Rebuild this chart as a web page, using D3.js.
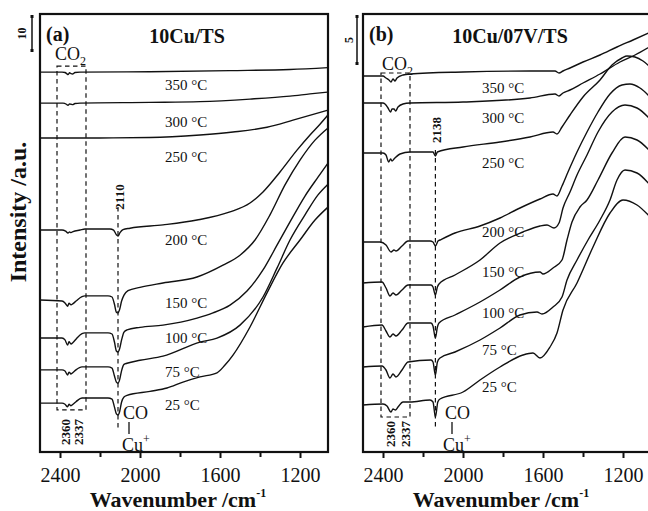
<!DOCTYPE html>
<html>
<head>
<meta charset="utf-8">
<script src="https://cdn.jsdelivr.net/npm/d3@7"></script>
<style>
  body { margin: 0; background: #fff; }
  svg { display: block; }
  text { font-family: "Liberation Serif", "Times New Roman", serif; fill: #111; }
</style>
</head>
<body>
<svg id="chart" width="648" height="511"></svg>
<script>
// ---------- data ----------
const wnMajorTicks = [2400, 2000, 1600, 1200];
const wnMinorTicks = [2200, 1800, 1400];
const temperatures = ["350", "300", "250", "200", "150", "100", "75", "25"];

// 10Cu/TS spectra: [wavenumber (cm-1), intensity (a.u., stacked)]
const a350 = [[2500,102.7],[2390,102.7],[2375,102.6],[2365,102.2],[2360,102.0],[2352,102.5],[2345,102.3],[2337,102.2],[2325,102.6],[2300,102.7],[1950,102.8],[1550,103.1],[1250,103.4],[1060,103.9]];
const a300 = [[2500,94.3],[2385,94.3],[2368,94.0],[2360,93.7],[2352,94.1],[2345,94.0],[2337,93.9],[2325,94.2],[2300,94.3],[1950,94.5],[1700,94.7],[1450,95.4],[1250,96.2],[1150,96.8],[1060,97.3]];
const a250 = [[2500,84.9],[2200,84.9],[1950,85.0],[1700,85.7],[1535,86.5],[1365,87.8],[1235,89.7],[1060,92.4]];
const a200 = [[2500,60.0],[2390,60.0],[2372,59.7],[2360,59.2],[2352,59.5],[2345,59.3],[2335,59.6],[2300,60.0],[2275,60.3],[2150,60.3],[2132,60.0],[2118,58.7],[2110,58.4],[2100,59.3],[2085,60.1],[2050,60.5],[1885,61.4],[1715,62.7],[1550,64.9],[1450,67.3],[1385,70.3],[1300,75.7],[1215,81.6],[1150,85.7],[1100,88.6],[1060,91.1]];
const a150 = [[2500,41.1],[2390,40.8],[2375,40.3],[2362,39.4],[2355,40.2],[2345,39.8],[2335,40.1],[2320,40.8],[2290,42.0],[2275,42.2],[2160,42.2],[2140,41.9],[2128,40.0],[2118,37.8],[2110,37.6],[2102,38.5],[2092,40.8],[2080,42.4],[2060,43.6],[2000,44.5],[1885,45.7],[1715,47.3],[1585,50.5],[1500,53.2],[1425,57.3],[1350,64.1],[1275,72.2],[1200,78.9],[1125,84.3],[1060,87.6]];
const a100 = [[2500,30.8],[2390,30.8],[2375,30.3],[2362,28.9],[2355,29.8],[2345,29.2],[2335,29.6],[2320,30.5],[2290,32.0],[2275,32.2],[2160,32.2],[2140,31.9],[2128,29.8],[2118,27.3],[2110,27.0],[2102,27.9],[2092,30.3],[2080,32.4],[2065,33.0],[2000,33.7],[1885,34.3],[1715,36.2],[1635,37.6],[1550,39.7],[1465,43.5],[1385,49.2],[1315,55.9],[1250,62.2],[1175,69.2],[1110,74.3],[1060,78.1]];
const a75 = [[2500,22.2],[2390,22.2],[2375,21.9],[2362,20.8],[2355,21.6],[2345,21.1],[2335,21.5],[2320,22.2],[2290,23.0],[2160,23.0],[2140,22.7],[2128,20.6],[2118,18.9],[2110,18.6],[2102,19.5],[2092,22.0],[2080,23.7],[2065,24.0],[2000,24.8],[1885,25.9],[1700,29.7],[1615,30.8],[1500,34.3],[1385,41.9],[1315,49.7],[1250,57.3],[1175,64.1],[1110,69.5],[1060,72.4]];
const a25 = [[2500,13.2],[2390,13.2],[2375,12.9],[2362,12.2],[2355,12.9],[2345,12.5],[2335,12.9],[2320,13.6],[2290,14.6],[2160,14.6],[2140,14.3],[2128,12.2],[2118,10.3],[2110,10.0],[2102,10.9],[2092,13.5],[2080,14.9],[2065,15.3],[1950,16.4],[1865,17.3],[1785,18.9],[1700,20.3],[1615,21.4],[1575,23.5],[1535,26.2],[1450,33.8],[1365,43.0],[1285,51.1],[1200,57.3],[1125,62.7],[1060,66.2]];

// 10Cu/07V/TS spectra
const b350 = [[2500,37.6],[2400,37.6],[2385,37.4],[2370,37.2],[2360,37.0],[2350,37.3],[2340,37.1],[2330,37.4],[2300,37.7],[2265,37.8],[2000,38.0],[1665,38.1],[1540,38.1],[1520,37.9],[1500,38.1],[1465,38.4],[1400,39.0],[1315,39.7],[1230,40.5],[1150,41.2],[1060,42.0]];
const b300 = [[2500,34.9],[2400,34.9],[2390,34.8],[2375,34.4],[2362,34.0],[2355,34.3],[2345,34.3],[2337,34.1],[2325,34.5],[2300,34.8],[2265,34.9],[2000,35.0],[1665,35.4],[1540,35.8],[1520,35.6],[1500,35.9],[1465,36.2],[1400,36.9],[1315,37.8],[1215,39.0],[1140,39.7],[1060,40.6]];
const b250 = [[2500,29.9],[2400,29.9],[2385,29.7],[2372,29.0],[2362,29.3],[2355,29.1],[2345,29.3],[2335,29.5],[2315,29.8],[2265,30.0],[2150,30.0],[2138,29.6],[2128,30.0],[2000,30.5],[1815,31.0],[1665,31.5],[1550,32.0],[1530,31.8],[1505,32.5],[1465,33.7],[1400,35.5],[1315,37.2],[1255,38.7],[1205,39.4],[1180,39.6],[1140,39.5],[1100,39.1],[1060,38.4]];
const b200 = [[2500,21.0],[2415,21.0],[2385,20.7],[2360,20.0],[2345,20.2],[2335,20.1],[2305,20.6],[2275,21.1],[2165,21.1],[2150,21.0],[2138,20.6],[2125,21.1],[2115,21.2],[2040,21.9],[1915,22.6],[1815,23.4],[1715,24.4],[1615,25.3],[1550,25.8],[1530,25.6],[1505,26.6],[1475,28.0],[1430,30.0],[1380,32.0],[1325,34.0],[1265,35.8],[1205,36.7],[1165,36.8],[1115,36.4],[1060,35.4]];
const b150 = [[2500,16.9],[2405,17.0],[2385,16.4],[2365,15.6],[2350,15.9],[2335,15.7],[2305,16.2],[2275,16.7],[2160,16.7],[2150,16.5],[2138,15.7],[2128,16.5],[2120,16.8],[2040,17.7],[1915,19.2],[1815,20.9],[1700,22.0],[1615,22.6],[1580,22.7],[1545,22.4],[1520,22.9],[1500,24.4],[1465,26.0],[1430,27.7],[1380,29.7],[1325,32.0],[1255,34.0],[1190,34.7],[1130,34.4],[1060,33.2]];
const b100 = [[2500,12.5],[2405,12.7],[2385,12.1],[2365,11.5],[2350,11.8],[2335,11.6],[2305,12.2],[2275,12.9],[2160,12.9],[2150,12.6],[2138,11.4],[2128,12.5],[2120,12.9],[2040,13.7],[1915,15.0],[1815,16.2],[1715,17.5],[1615,18.0],[1600,17.8],[1550,18.4],[1505,19.2],[1480,21.2],[1455,23.0],[1415,24.5],[1380,25.2],[1325,27.2],[1255,29.9],[1190,31.5],[1130,31.2],[1060,30.0]];
const b75 = [[2500,8.5],[2405,8.6],[2385,8.2],[2365,7.4],[2350,7.8],[2335,7.5],[2305,8.2],[2275,9.0],[2160,9.2],[2150,9.0],[2138,7.7],[2128,9.0],[2115,9.4],[2040,10.0],[1915,11.2],[1815,12.4],[1715,13.7],[1630,14.0],[1605,13.8],[1550,14.5],[1505,15.5],[1480,17.2],[1430,19.2],[1375,21.2],[1315,23.2],[1265,25.2],[1230,27.2],[1190,28.2],[1130,27.9],[1060,26.6]];
const b25 = [[2500,4.7],[2400,4.8],[2380,4.6],[2360,4.0],[2350,4.3],[2338,4.2],[2325,4.5],[2300,5.0],[2265,5.0],[2165,5.2],[2150,5.0],[2138,3.5],[2126,5.0],[2115,5.3],[2000,6.0],[1915,7.2],[1815,8.5],[1700,9.7],[1650,9.9],[1615,9.4],[1565,10.5],[1530,11.9],[1500,14.2],[1430,16.9],[1350,20.5],[1265,23.9],[1200,25.2],[1130,24.7],[1060,23.4]];

// Band assignments
const co2Bands = ["2360", "2337"];
const coBandA = 2110;
const coBandB = 2138;

// ---------- layout ----------
const svg = d3.select("#chart");
const plotTop = 14, plotBottom = 452, plotWidth = 288;
const wnDomain = [2500, 1060];

const panels = [
  {
    tag: "(a)", title: "10Cu/TS", left: 40, yMax: 118.4, bar: 10,
    spectra: [a350, a300, a250, a200, a150, a100, a75, a25],
    labelWn: 1875, labelLevels: [99.2, 89.2, 79.7, 57.3, 40.3, 30.8, 21.6, 12.7],
    coBand: coBandA, box: [2415, 2270, 104.3, 11.4], coLine: [66.2, 5.9],
    co2Text: [55, 60], co2Labels: [65, 78], coText: [123, 129, 122],
    barX: 32, barLabelX: 22
  },
  {
    tag: "(b)", title: "10Cu/07V/TS", left: 363, yMax: 43.8, bar: 5,
    spectra: [b350, b300, b250, b200, b150, b100, b75, b25],
    labelWn: 1905, labelLevels: [36.4, 33.4, 28.9, 22.0, 18.0, 13.9, 10.2, 6.5],
    coBand: coBandB, box: [2410, 2265, 37.9, 3.5], coLine: [30.2, 2.5],
    co2Text: [382, 70], co2Labels: [390, 405], coText: [445, 452, 443],
    barX: 357, barLabelX: 349
  }
];

panels.forEach(p => {
  const x = d3.scaleLinear().domain(wnDomain).range([p.left, p.left + plotWidth]);
  const y = d3.scaleLinear().domain([0, p.yMax]).range([plotBottom, plotTop]);
  const g = svg.append("g");

  // dashed guides: CO2 window and Cu+-CO band
  const dash = "4.5,3.5";
  g.append("rect")
    .attr("x", x(p.box[0])).attr("y", y(p.box[2]))
    .attr("width", x(p.box[1]) - x(p.box[0])).attr("height", y(p.box[3]) - y(p.box[2]))
    .attr("fill", "none").attr("stroke", "#111").attr("stroke-width", 1.2)
    .attr("stroke-dasharray", dash);
  g.append("line")
    .attr("x1", x(p.coBand)).attr("x2", x(p.coBand))
    .attr("y1", y(p.coLine[0])).attr("y2", y(p.coLine[1]))
    .attr("stroke", "#111").attr("stroke-width", 1.2).attr("stroke-dasharray", dash);

  // spectra
  const line = d3.line()
    .x(d => x(d[0])).y(d => y(d[1]))
    .curve(d3.curveMonotoneX);
  g.selectAll("path.spec").data(p.spectra).join("path")
    .attr("class", "spec").attr("d", line)
    .attr("fill", "none").attr("stroke", "#111").attr("stroke-width", 1.4)
    .attr("stroke-linejoin", "round");

  // temperature labels
  g.selectAll("text.temp").data(temperatures).join("text")
    .attr("class", "temp")
    .attr("x", x(p.labelWn))
    .attr("y", (d, i) => y(p.labelLevels[i]))
    .attr("dy", "0.35em")
    .attr("font-size", 15)
    .text(d => d + " \u00B0C");

  // frame
  g.append("rect")
    .attr("x", p.left).attr("y", plotTop)
    .attr("width", plotWidth).attr("height", plotBottom - plotTop)
    .attr("fill", "none").attr("stroke", "#111").attr("stroke-width", 2.2);

  // bottom axis
  const axMajor = d3.axisBottom(x).tickValues(wnMajorTicks).tickSize(6).tickPadding(10).tickFormat(d3.format("d"));
  const axMinor = d3.axisBottom(x).tickValues(wnMinorTicks).tickSize(5).tickFormat("");
  const gm = g.append("g").attr("transform", `translate(0,${plotBottom})`).call(axMajor);
  const gn = g.append("g").attr("transform", `translate(0,${plotBottom})`).call(axMinor);
  [gm, gn].forEach(a => {
    a.select(".domain").remove();
    a.selectAll(".tick line").attr("stroke", "#111").attr("stroke-width", 2);
  });
  gm.selectAll(".tick text")
    .attr("font-size", 20).attr("font-family", "Liberation Serif, serif").attr("fill", "#111");

  // x axis title
  const xt = g.append("text")
    .attr("x", p.left + plotWidth / 2 - 6).attr("y", 507)
    .attr("text-anchor", "middle").attr("font-size", 22).attr("font-weight", "bold");
  xt.append("tspan").text("Wavenumber /cm");
  xt.append("tspan").attr("font-size", 12).attr("dy", -10).text("-1");

  // panel tag and sample name
  g.append("text").attr("x", p.left + 6).attr("y", 41)
    .attr("font-size", 20).attr("font-weight", "bold").text(p.tag);
  g.append("text").attr("x", p.left + 147).attr("y", 43)
    .attr("text-anchor", "middle").attr("font-size", 20).attr("font-weight", "bold").text(p.title);

  // CO2 label
  const ct = g.append("text").attr("x", p.co2Text[0]).attr("y", p.co2Text[1]).attr("font-size", 18);
  ct.append("tspan").text("CO");
  ct.append("tspan").attr("font-size", 12).attr("dy", 5).text("2");

  // CO2 band positions
  co2Bands.forEach((b, i) => {
    g.append("text")
      .attr("transform", `translate(${p.co2Labels[i]},${p.tag === "(a)" ? 432 : 434}) rotate(-90)`)
      .attr("text-anchor", "middle").attr("dy", "0.35em")
      .attr("font-size", 13).attr("font-weight", "bold").text(b);
  });

  // Cu+-CO band position
  g.append("text")
    .attr("transform", `translate(${x(p.coBand) + 1},${p.tag === "(a)" ? 197 : 130}) rotate(-90)`)
    .attr("text-anchor", "middle").attr("dy", "0.35em")
    .attr("font-size", 13).attr("font-weight", "bold").text(p.coBand);

  // Cu+ - CO annotation
  g.append("text").attr("x", p.coText[0]).attr("y", 419).attr("font-size", 18).text("CO");
  g.append("line").attr("x1", p.coText[1]).attr("x2", p.coText[1]).attr("y1", 422).attr("y2", 434)
    .attr("stroke", "#111").attr("stroke-width", 1.3);
  const cu = g.append("text").attr("x", p.coText[2]).attr("y", 451).attr("font-size", 18);
  cu.append("tspan").text("Cu");
  cu.append("tspan").attr("font-size", 12).attr("dy", -8).text("+");

  // intensity scale bar
  const barTop = plotTop + 1;
  const barLen = y(0) - y(p.bar);
  g.append("line").attr("x1", p.barX).attr("x2", p.barX).attr("y1", barTop).attr("y2", barTop + barLen)
    .attr("stroke", "#111").attr("stroke-width", 1.5);
  [barTop, barTop + barLen - 3].forEach(t => {
    g.append("rect").attr("x", p.barX - 1.5).attr("y", t).attr("width", 3).attr("height", 3).attr("fill", "#111");
  });
  g.append("text")
    .attr("transform", `translate(${p.barLabelX},${barTop + barLen / 2}) rotate(-90)`)
    .attr("text-anchor", "middle").attr("dy", "0.35em")
    .attr("font-size", 12).attr("font-weight", "bold").text(p.bar);
});

// y axis title
svg.append("text")
  .attr("transform", "translate(26,212) rotate(-90)")
  .attr("text-anchor", "middle").attr("font-size", 24).attr("font-weight", "bold")
  .text("Intensity /a.u.");
</script>
</body>
</html>
